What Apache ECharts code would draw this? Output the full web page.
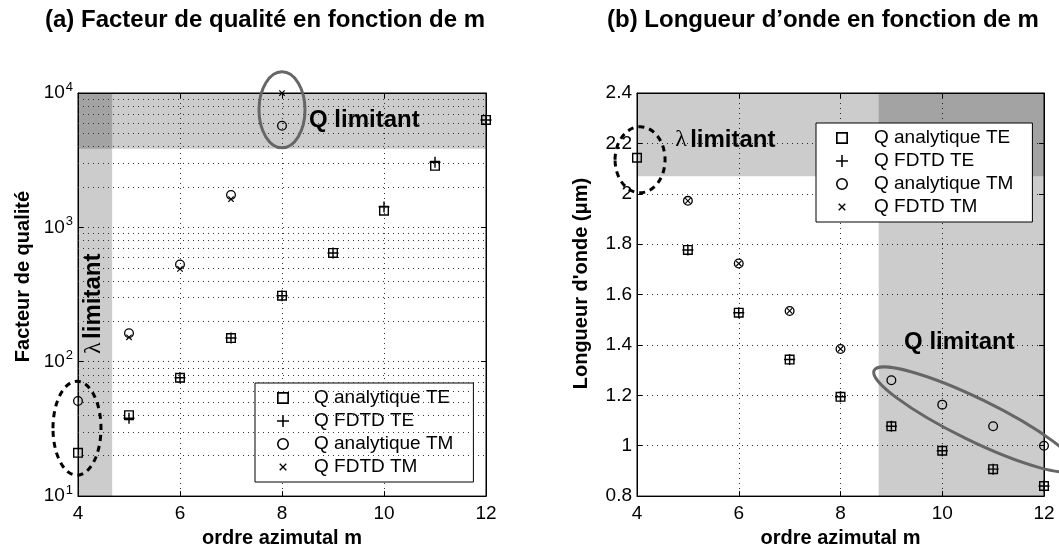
<!DOCTYPE html>
<html>
<head>
<meta charset="utf-8">
<script src="https://cdn.jsdelivr.net/npm/echarts@6/dist/echarts.min.js"></script>
<style>
html, body { margin: 0; padding: 0; background: #fff; }
#chart { width: 1059px; height: 553px; }
</style>
</head>
<body>
<div id="chart"></div>
<script>
// azimuthal order m
var mValues = [4, 5, 6, 7, 8, 9, 10, 11, 12];
var seriesNames = ['Q analytique TE', 'Q FDTD TE', 'Q analytique TM', 'Q FDTD TM'];

// (a) quality factor vs m  (null = no point)
var qAnaTE  = [21, 40, 76, 150, 310, 645, 1330, 2870, 6300];
var qFdtdTE = [null, 38, 76, 150, 310, 645, 1420, 3050, 6300];
var qAnaTM  = [51, 163, 530, 1740, 5700, null, null, null, null];
var qFdtdTM = [null, 152, 490, 1620, 10000, null, null, null, null];

// (b) wavelength (um) vs m
var lAnaTE  = [2.143, 1.777, 1.528, 1.342, 1.194, 1.077, 0.98, 0.907, 0.84];
var lFdtdTE = [null, 1.777, 1.528, 1.342, 1.194, 1.077, 0.98, 0.907, 0.84];
var lAnaTM  = [null, 1.972, 1.723, 1.535, 1.384, 1.26, 1.163, 1.077, 1.0];
var lFdtdTM = [null, 1.972, 1.723, 1.535, 1.384, null, null, null, null];

// minor log grid lines of panel (a)
var qMinorGrid = [20, 30, 40, 50, 60, 70, 80, 90, 200, 300, 400, 500, 600, 700, 800, 900,
                  2000, 3000, 4000, 5000, 6000, 7000, 8000, 9000];

// limiting zones
var qLimitA = 3840;      // Q limit (panel a, above)
var lamLimitA = 4.67;    // lambda limit (panel a, m below)
var lamLimitB = 2.07;    // lambda limit (panel b, above)
var qLimitB = 8.75;      // Q limit (panel b, m above)

var FONT = '"Liberation Sans", Arial, sans-serif';

var symSquare = 'path://M0,0H10V10H0Z M1.4,1.4V8.6H8.6V1.4Z';
var symPlus = 'path://M4.35,0H5.65V4.35H10V5.65H5.65V10H4.35V5.65H0V4.35H4.35Z';
var symCircle = 'path://M5,0A5,5 0 1,1 5,10A5,5 0 1,1 5,0Z M5,1.3A3.7,3.7 0 1,0 5,8.7A3.7,3.7 0 1,0 5,1.3Z';
var symCross = 'path://M-3,-3Z M13,13Z M0,1.3L1.3,0L10,8.7L8.7,10Z M8.7,0L10,1.3L1.3,10L0,8.7Z';
var symbols = [symSquare, symPlus, symCircle, symCross];
var sizes = [10, 11, 10, 10];

function pts(arr) {
    var out = [];
    for (var i = 0; i < mValues.length; i++) {
        if (arr[i] !== null) out.push([mValues[i], arr[i]]);
    }
    return out;
}

var dotted = { type: [1, 4], color: '#333', width: 1 };
var shade = { color: 'rgba(0,0,0,0.2)' };

function makeSeries(gi, arrays) {
    return arrays.map(function (arr, k) {
        return {
            name: seriesNames[k],
            type: 'scatter',
            xAxisIndex: gi,
            yAxisIndex: gi,
            symbol: symbols[k],
            symbolSize: sizes[k],
            itemStyle: { color: '#000', opacity: 1 },
            z: 5 + k,
            data: pts(arr)
        };
    });
}

var seriesA = makeSeries(0, [qAnaTE, qFdtdTE, qAnaTM, qFdtdTM]);
var seriesB = makeSeries(1, [lAnaTE, lFdtdTE, lAnaTM, lFdtdTM]);

seriesA[0].markArea = {
    silent: true,
    itemStyle: shade,
    data: [
        [{ xAxis: 4, yAxis: 10 }, { xAxis: lamLimitA, yAxis: 10000 }],
        [{ xAxis: 4, yAxis: qLimitA }, { xAxis: 12, yAxis: 10000 }]
    ]
};
seriesA[0].markLine = {
    silent: true,
    symbol: ['none', 'none'],
    label: { show: false },
    lineStyle: dotted,
    data: qMinorGrid.map(function (v) { return { yAxis: v }; })
};
seriesB[0].markArea = {
    silent: true,
    itemStyle: shade,
    data: [
        [{ xAxis: 4, yAxis: lamLimitB }, { xAxis: 12, yAxis: 2.4 }],
        [{ xAxis: qLimitB, yAxis: 0.8 }, { xAxis: 12, yAxis: 2.4 }]
    ]
};

var tickLabel = { color: '#000', fontFamily: FONT, fontSize: 19 };
var axisName = { color: '#000', fontFamily: FONT, fontSize: 20, fontWeight: 'bold' };
var titleStyle = { fontFamily: FONT, fontSize: 24, fontWeight: 'bold', color: '#000' };

function xAxisMain(gi) {
    return {
        type: 'value', gridIndex: gi, min: 4, max: 12, interval: 2,
        name: 'ordre azimutal m', nameLocation: 'middle', nameGap: 30,
        nameTextStyle: axisName,
        axisLine: { lineStyle: { color: '#000', width: 1 } },
        axisTick: { inside: true, length: 5, lineStyle: { color: '#000' } },
        axisLabel: Object.assign({ margin: 8 }, tickLabel),
        splitLine: { show: true, lineStyle: dotted }
    };
}
function xAxisMirror(gi) {
    return {
        type: 'value', gridIndex: gi, min: 4, max: 12, interval: 2, position: 'top',
        axisLine: { lineStyle: { color: '#000', width: 1 } },
        axisTick: { inside: true, length: 5, lineStyle: { color: '#000' } },
        axisLabel: { show: false }, splitLine: { show: false }
    };
}

var option = {
    animation: false,
    backgroundColor: '#fff',
    title: [
        { text: '(a) Facteur de qualité en fonction de m', left: 40, top: 3, textStyle: titleStyle },
        { text: '(b) Longueur d\u2019onde en fonction de m', left: 602, top: 3, textStyle: titleStyle }
    ],
    grid: [
        { left: 78, top: 93, width: 408, height: 411, show: true, borderColor: '#000', borderWidth: 1, backgroundColor: 'transparent' },
        { left: 637, top: 93, width: 407, height: 411, show: true, borderColor: '#000', borderWidth: 1, backgroundColor: 'transparent' }
    ],
    legend: [
        {
            data: seriesNames, orient: 'vertical', left: 255, top: 383,
            padding: [5, 20, 5, 22], itemGap: 3, itemWidth: 14, itemHeight: 12,
            backgroundColor: '#fff', borderColor: '#000', borderWidth: 1,
            selectedMode: false,
            textStyle: { color: '#000', fontFamily: FONT, fontSize: 19, lineHeight: 20, padding: [0, 0, 0, 19] }
        },
        {
            data: seriesNames, orient: 'vertical', left: 816, top: 123,
            padding: [5, 19, 5, 20], itemGap: 3, itemWidth: 14, itemHeight: 12,
            backgroundColor: '#fff', borderColor: '#000', borderWidth: 1,
            selectedMode: false,
            textStyle: { color: '#000', fontFamily: FONT, fontSize: 19, lineHeight: 20, padding: [0, 0, 0, 20] }
        }
    ],
    xAxis: [xAxisMain(0), xAxisMain(1), xAxisMirror(0), xAxisMirror(1)],
    yAxis: [
        {
            type: 'log', gridIndex: 0, min: 10, max: 10000, logBase: 10,
            name: 'Facteur de qualité', nameLocation: 'middle', nameGap: 45,
            nameTextStyle: Object.assign({ padding: [0, 0, 0, 36] }, axisName),
            axisLine: { lineStyle: { color: '#000' } },
            axisTick: { inside: true, length: 5, lineStyle: { color: '#000' } },
            axisLabel: {
                margin: 5,
                formatter: function (v) {
                    return '{b|10}{s|' + Math.round(Math.log10(v)) + '}';
                },
                rich: {
                    b: { fontFamily: FONT, fontSize: 19, color: '#000' },
                    s: { fontFamily: FONT, fontSize: 13, color: '#000', verticalAlign: 'top', padding: [0, 0, 12, 1] }
                }
            },
            splitLine: { show: true, lineStyle: dotted }
        },
        {
            type: 'value', gridIndex: 1, min: 0.8, max: 2.4, interval: 0.2,
            name: 'Longueur d\'onde (\u03bcm)', nameLocation: 'middle', nameGap: 46,
            nameTextStyle: Object.assign({ padding: [0, 0, 0, 22] }, axisName),
            axisLine: { lineStyle: { color: '#000' } },
            axisTick: { inside: true, length: 5, lineStyle: { color: '#000' } },
            axisLabel: Object.assign({
                margin: 5,
                formatter: function (v) { return String(+v.toFixed(1)); }
            }, tickLabel),
            splitLine: { show: true, lineStyle: dotted }
        },
        {
            type: 'log', gridIndex: 0, min: 10, max: 10000, logBase: 10, position: 'right',
            axisLine: { lineStyle: { color: '#000' } },
            axisTick: { inside: true, length: 5, lineStyle: { color: '#000' } },
            axisLabel: { show: false }, splitLine: { show: false }
        },
        {
            type: 'value', gridIndex: 1, min: 0.8, max: 2.4, interval: 0.2, position: 'right',
            axisLine: { lineStyle: { color: '#000' } },
            axisTick: { inside: true, length: 5, lineStyle: { color: '#000' } },
            axisLabel: { show: false }, splitLine: { show: false }
        }
    ],
    series: seriesA.concat(seriesB)
};

var chart = echarts.init(document.getElementById('chart'), null, { renderer: 'canvas' });
chart.setOption(option);

// annotations anchored to data coordinates
function px(gi, x, y) {
    return chart.convertToPixel({ xAxisIndex: gi, yAxisIndex: gi }, [x, y]);
}
var annot = { fontFamily: FONT, fontSize: 24, fontWeight: 'bold', fill: '#000' };
var rich = {
    l: { fontFamily: '"Liberation Serif", serif', fontSize: 24, fontWeight: 'normal', color: '#000' },
    b: { fontFamily: FONT, fontSize: 24, fontWeight: 'bold', color: '#000' }
};
var pQa = px(0, 8.53, 6300);
var pLa = px(0, 4.31, 270);
var pLb = px(1, 4.75, 2.213);
var pQb = px(1, 9.25, 1.412);
var eA1 = px(0, 8.0, 7500);
var eA2 = px(0, 3.98, 32);
var eB1 = px(1, 4.06, 2.135);
var eB2 = px(1, 10.64, 1.104);

chart.setOption({
    graphic: [
        { type: 'text', x: pQa[0], y: pQa[1], z: 50,
          style: Object.assign({ text: 'Q limitant', verticalAlign: 'middle', align: 'left' }, annot) },
        { type: 'text', x: pLa[0], y: pLa[1], rotation: Math.PI / 2, z: 50,
          style: { text: '{l|\u03bb} {b|limitant}', rich: rich, align: 'center', verticalAlign: 'middle' } },
        { type: 'text', x: pLb[0], y: pLb[1], z: 50,
          style: { text: '{l|\u03bb} {b|limitant}', rich: rich, align: 'left', verticalAlign: 'middle' } },
        { type: 'text', x: pQb[0], y: pQb[1], z: 50,
          style: Object.assign({ text: 'Q limitant', verticalAlign: 'middle', align: 'left' }, annot) },
        { type: 'ellipse', z: 50, shape: { cx: eA1[0], cy: eA1[1], rx: 23, ry: 38 },
          style: { fill: 'none', stroke: '#666', lineWidth: 3 } },
        { type: 'ellipse', z: 50, shape: { cx: eA2[0], cy: eA2[1], rx: 24, ry: 47 },
          style: { fill: 'none', stroke: '#000', lineWidth: 3, lineDash: [6, 5] } },
        { type: 'ellipse', z: 50, shape: { cx: eB1[0], cy: eB1[1], rx: 25, ry: 33 },
          style: { fill: 'none', stroke: '#000', lineWidth: 3, lineDash: [6, 5] } },
        { type: 'ellipse', z: 50, x: eB2[0], y: eB2[1], rotation: -26 * Math.PI / 180,
          shape: { cx: 0, cy: 0, rx: 112, ry: 21 },
          style: { fill: 'none', stroke: '#666', lineWidth: 3 } }
    ]
});
</script>
</body>
</html>
